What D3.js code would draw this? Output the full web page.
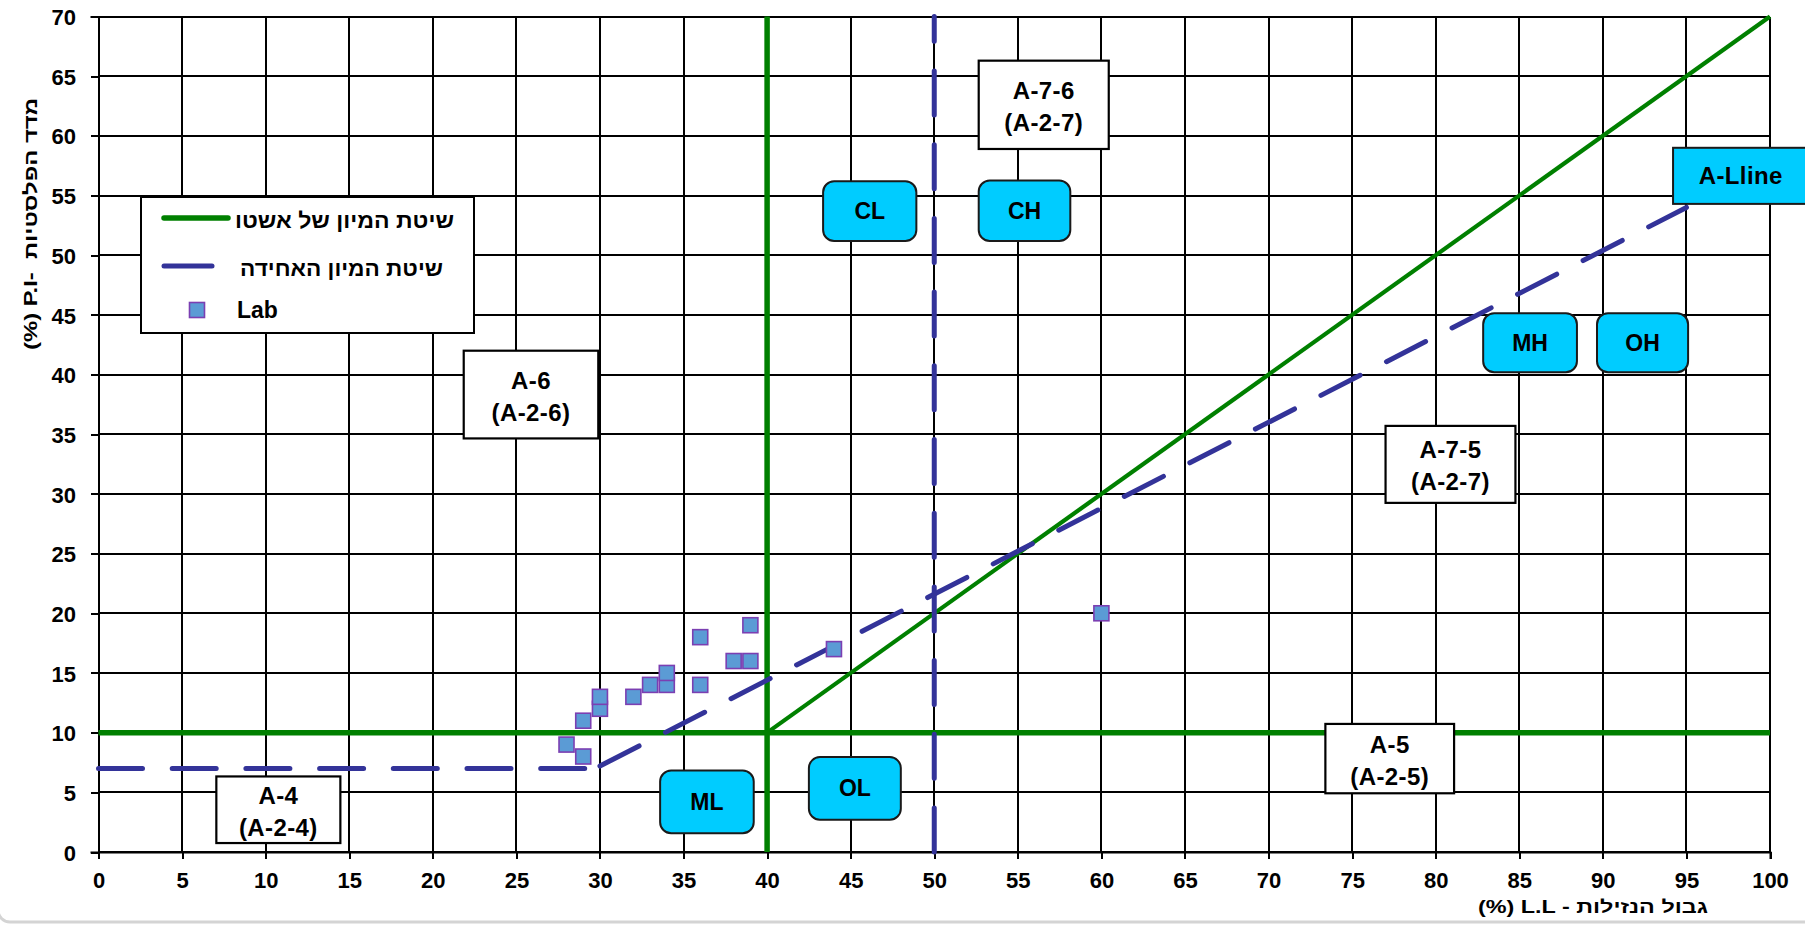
<!DOCTYPE html>
<html>
<head>
<meta charset="utf-8">
<script src="https://cdn.jsdelivr.net/npm/d3@7"></script>
<style>
  body { margin: 0; background: #fff; }
  text { font-family: "Liberation Sans", Arial, sans-serif; font-weight: bold; fill: #000; }
</style>
</head>
<body>
<svg id="chart" width="1805" height="925"></svg>
<script>
// Axis ticks
const xTickValues = [0, 5, 10, 15, 20, 25, 30, 35, 40, 45, 50, 55, 60, 65, 70, 75, 80, 85, 90, 95, 100];
const yTickValues = [0, 5, 10, 15, 20, 25, 30, 35, 40, 45, 50, 55, 60, 65, 70];

// Laboratory samples: liquid limit (LL) and plasticity index (PI)
const labLL = [28, 29, 29, 30, 30, 32, 33, 34, 34, 36, 36, 38, 39, 39, 44, 60];
const labPI = [9, 8, 11, 12, 13, 13, 14, 14, 15, 14, 18, 16, 16, 19, 17, 20];

// AASHTO classification boundaries [LL, PI]
const aashtoPI10 = [[0, 10], [100, 10]];
const aashtoLL40 = [[40, 0], [40, 70]];
const aashtoSplit = [[40, 10], [100, 70]];

// Unified (USCS) classification boundaries [LL, PI]
const uscsFloor = [[0, 7], [29.6, 7]];
const uscsALine = [[30, 7.2], [95, 54]];
const uscsLL50 = [[50, 0], [50, 70]];

// AASHTO group names with their extent in LL / PI
const aashtoZones = [
  { name: "A-7-6", sub: "(A-2-7)", ll: [52.66, 60.44], pi: [58.9, 66.3] },
  { name: "A-6",   sub: "(A-2-6)", ll: [21.85, 29.9],  pi: [34.65, 42.0] },
  { name: "A-7-5", sub: "(A-2-7)", ll: [77.0, 84.77],  pi: [29.25, 35.7] },
  { name: "A-5",   sub: "(A-2-5)", ll: [73.4, 81.1],   pi: [4.92, 10.73] },
  { name: "A-4",   sub: "(A-2-4)", ll: [7.05, 14.47],  pi: [0.75, 6.33] }
];

// USCS group symbols with their extent in LL / PI
const uscsZones = [
  { name: "CL", ll: [43.35, 48.93], pi: [51.2, 56.2] },
  { name: "CH", ll: [52.66, 58.14], pi: [51.2, 56.26] },
  { name: "ML", ll: [33.6, 39.2],   pi: [1.57, 6.83] },
  { name: "OL", ll: [42.5, 48.0],   pi: [2.7, 7.95] },
  { name: "MH", ll: [82.84, 88.45], pi: [40.2, 45.14] },
  { name: "OH", ll: [89.65, 95.1],  pi: [40.2, 45.14] }
];
const aLineTag = { name: "A-Lline", ll: [94.2, 102.3], pi: [54.3, 59.0] };

const legendLabels = ["שיטת המיון של אשטו", "שיטת המיון האחידה", "Lab"];
const xTitle = "(%) L.L - גבול הנזילות";
const yTitle = "(%) P.I-  מדד הפלסטיות";

const svg = d3.select("#chart");
const W = 1805, H = 925;
const plot = { left: 98.5, right: 1770, top: 16.5, bottom: 852 };

const x = d3.scaleLinear().domain([0, 100]).range([plot.left, plot.right]);
const y = d3.scaleLinear().domain([0, 70]).range([plot.bottom, plot.top]);

svg.append("rect").attr("width", W).attr("height", H).attr("fill", "#fff");

// Outer chart frame (only its lower edge falls inside the page)
svg.append("rect")
  .attr("x", -2).attr("y", -30).attr("width", W + 20).attr("height", 952)
  .attr("rx", 12).attr("fill", "none").attr("stroke", "#d4d4d4").attr("stroke-width", 3);

// Grid
const grid = svg.append("g").attr("stroke", "#000").attr("stroke-width", 2).attr("shape-rendering", "crispEdges");
grid.selectAll("line.v").data(xTickValues).join("line").attr("class", "v")
  .attr("x1", d => x(d)).attr("x2", d => x(d)).attr("y1", y(0)).attr("y2", y(70));
grid.selectAll("line.h").data(yTickValues).join("line").attr("class", "h")
  .attr("x1", x(0)).attr("x2", x(100)).attr("y1", d => y(d)).attr("y2", d => y(d));

// Axes
const xAxis = svg.append("g").attr("transform", `translate(0,${plot.bottom})`)
  .call(d3.axisBottom(x).tickValues(xTickValues).tickSize(7).tickFormat(d3.format("d")));
xAxis.select(".domain").attr("stroke", "#000").attr("stroke-width", 2);
xAxis.selectAll(".tick line").attr("stroke", "#000").attr("stroke-width", 2).attr("shape-rendering", "crispEdges");
xAxis.selectAll(".tick text").attr("y", 36).attr("dy", null).style("font-size", "22px").style("font-weight", "bold").attr("fill", "#000");

const yAxis = svg.append("g").attr("transform", `translate(${plot.left},0)`)
  .call(d3.axisLeft(y).tickValues(yTickValues).tickSize(8).tickFormat(d3.format("d")));
yAxis.select(".domain").attr("stroke", "#000").attr("stroke-width", 2);
yAxis.selectAll(".tick line").attr("stroke", "#000").attr("stroke-width", 2).attr("shape-rendering", "crispEdges");
yAxis.selectAll(".tick text").attr("x", -22.5).attr("dy", "0.37em").style("font-size", "22px").style("font-weight", "bold").attr("fill", "#000");

// Axis titles
svg.append("text").attr("x", 1593).attr("y", 913).attr("text-anchor", "middle")
  .attr("direction", "ltr").style("font-size", "17.5px").style("white-space", "pre")
  .attr("textLength", 230).attr("lengthAdjust", "spacingAndGlyphs").text(xTitle);
svg.append("text").attr("transform", "translate(37,224) rotate(-90)").attr("text-anchor", "middle")
  .attr("direction", "ltr").style("font-size", "18px").style("white-space", "pre")
  .attr("textLength", 252).attr("lengthAdjust", "spacingAndGlyphs").text(yTitle);

const line = d3.line().x(d => x(d[0])).y(d => y(d[1]));
const GREEN = "#008000", BLUE = "#333399";

// AASHTO boundaries
[aashtoPI10, aashtoLL40].forEach(seg => {
  svg.append("path").attr("d", line(seg)).attr("fill", "none")
    .attr("stroke", GREEN).attr("stroke-width", 5.5);
});
svg.append("path").attr("d", line(aashtoSplit)).attr("fill", "none")
  .attr("stroke", GREEN).attr("stroke-width", 4.2);

// USCS boundaries (dashed)
[uscsFloor, uscsALine, uscsLL50].forEach(seg => {
  svg.append("path").attr("d", line(seg)).attr("fill", "none")
    .attr("stroke", BLUE).attr("stroke-width", 5).attr("stroke-linecap", "round")
    .attr("stroke-dasharray", "44,29.7");
});

// Lab samples
const MS = 15;
svg.append("g").selectAll("rect").data(labLL.map((ll, i) => [ll, labPI[i]])).join("rect")
  .attr("x", d => x(d[0]) - MS / 2).attr("y", d => y(d[1]) - MS / 2)
  .attr("width", MS).attr("height", MS)
  .attr("fill", "#5b9bd5").attr("stroke", "#7b3fb2").attr("stroke-width", 1.6);

// AASHTO group labels
const az = svg.append("g").selectAll("g").data(aashtoZones).join("g");
az.append("rect")
  .attr("x", d => x(d.ll[0])).attr("y", d => y(d.pi[1]))
  .attr("width", d => x(d.ll[1]) - x(d.ll[0])).attr("height", d => y(d.pi[0]) - y(d.pi[1]))
  .attr("fill", "#fff").attr("stroke", "#000").attr("stroke-width", 2.2);
az.append("text").attr("text-anchor", "middle")
  .attr("x", d => (x(d.ll[0]) + x(d.ll[1])) / 2)
  .attr("y", d => (y(d.pi[0]) + y(d.pi[1])) / 2 - 6)
  .style("font-size", "24px").style("letter-spacing", "0.4px").text(d => d.name);
az.append("text").attr("text-anchor", "middle")
  .attr("x", d => (x(d.ll[0]) + x(d.ll[1])) / 2)
  .attr("y", d => (y(d.pi[0]) + y(d.pi[1])) / 2 + 26)
  .style("font-size", "24px").style("letter-spacing", "0.4px").text(d => d.sub);

// USCS group symbols
const uz = svg.append("g").selectAll("g").data(uscsZones).join("g");
uz.append("rect")
  .attr("x", d => x(d.ll[0])).attr("y", d => y(d.pi[1]))
  .attr("width", d => x(d.ll[1]) - x(d.ll[0])).attr("height", d => y(d.pi[0]) - y(d.pi[1]))
  .attr("rx", 11).attr("fill", "#00ccff").attr("stroke", "#1a1a1a").attr("stroke-width", 2);
uz.append("text").attr("text-anchor", "middle")
  .attr("x", d => (x(d.ll[0]) + x(d.ll[1])) / 2)
  .attr("y", d => (y(d.pi[0]) + y(d.pi[1])) / 2 + 8)
  .style("font-size", "23px").text(d => d.name);

const tag = svg.append("g");
tag.append("rect")
  .attr("x", x(aLineTag.ll[0])).attr("y", y(aLineTag.pi[1]))
  .attr("width", x(aLineTag.ll[1]) - x(aLineTag.ll[0])).attr("height", y(aLineTag.pi[0]) - y(aLineTag.pi[1]))
  .attr("fill", "#00ccff").attr("stroke", "#1a1a1a").attr("stroke-width", 2);
tag.append("text").attr("text-anchor", "middle")
  .attr("x", (x(aLineTag.ll[0]) + x(aLineTag.ll[1])) / 2)
  .attr("y", (y(aLineTag.pi[0]) + y(aLineTag.pi[1])) / 2 + 8)
  .style("font-size", "24px").style("letter-spacing", "0.4px").text(aLineTag.name);

// Legend
const lg = svg.append("g");
lg.append("rect").attr("x", 141).attr("y", 197).attr("width", 333).attr("height", 136)
  .attr("fill", "#fff").attr("stroke", "#000").attr("stroke-width", 2);
lg.append("line").attr("x1", 164).attr("x2", 228).attr("y1", 218).attr("y2", 218)
  .attr("stroke", GREEN).attr("stroke-width", 5.5).attr("stroke-linecap", "round");
lg.append("line").attr("x1", 164).attr("x2", 212).attr("y1", 266).attr("y2", 266)
  .attr("stroke", BLUE).attr("stroke-width", 5).attr("stroke-linecap", "round");
lg.append("rect").attr("x", 197 - MS / 2).attr("y", 310 - MS / 2).attr("width", MS).attr("height", MS)
  .attr("fill", "#5b9bd5").attr("stroke", "#7b3fb2").attr("stroke-width", 1.6);
lg.append("text").attr("x", 454).attr("y", 228).attr("text-anchor", "end").style("font-size", "22px")
  .attr("textLength", 219).attr("lengthAdjust", "spacingAndGlyphs").text(legendLabels[0]);
lg.append("text").attr("x", 443).attr("y", 276).attr("text-anchor", "end").style("font-size", "22px")
  .attr("textLength", 203).attr("lengthAdjust", "spacingAndGlyphs").text(legendLabels[1]);
lg.append("text").attr("x", 237).attr("y", 318).attr("text-anchor", "start").style("font-size", "23px").text(legendLabels[2]);
</script>
</body>
</html>
